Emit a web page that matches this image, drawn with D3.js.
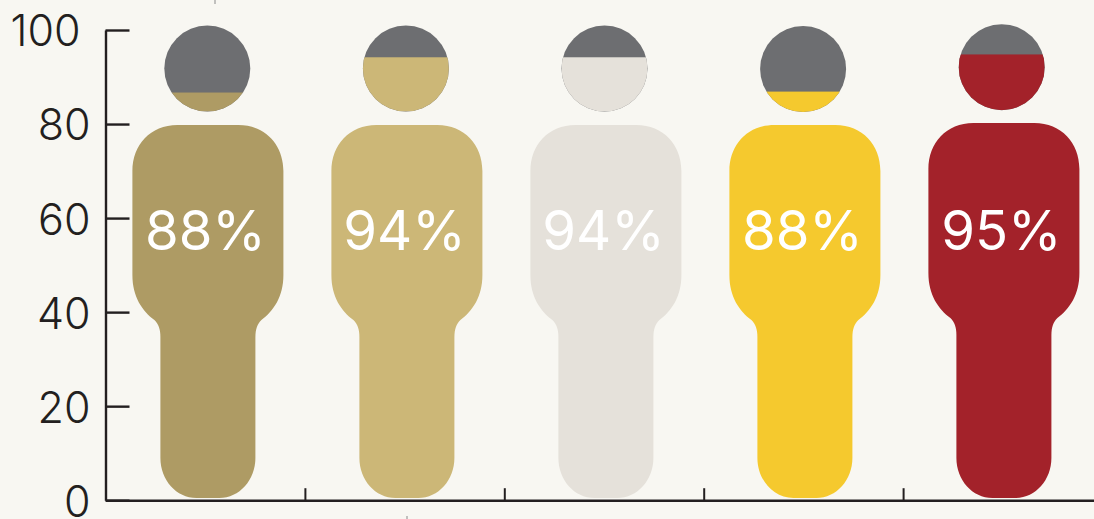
<!DOCTYPE html>
<html><head><meta charset="utf-8">
<script src="https://cdn.jsdelivr.net/npm/d3@7"></script>
<style>html,body{margin:0;padding:0;background:#f8f7f2;overflow:hidden}svg{display:block}</style>
</head><body><div id="chart"></div>
<script>
const categories = ["Group 1","Group 2","Group 3","Group 4","Group 5"];
const percentLabels = ["88%","94%","94%","88%","95%"];
const headFill = [86.7,94.2,94.2,86.9,94.8];
const headCentre = [91.8,91.8,91.8,91.7,92.1];
const bodyTop = [79.8,79.8,79.8,79.8,80.2];
const colours = ["#ae9b64","#ccb777","#e5e1da","#f5c92e","#a3222a"];
const yTicks = [0,20,40,60,80,100];

const W=1094,H=519, ink="#231f20", grey="#6d6e71";
const y=d3.scaleLinear().domain([0,100]).range([500.2,30]);
const xBody=d3.scaleBand().domain(categories).range([108.4,1103.4]);
const xHead=d3.scaleBand().domain(categories).range([108,1101]);
const xEdge=d3.scaleLinear().domain([0,5]).range([105.5,1102.5]);
const svg=d3.select("#chart").append("svg").attr("width",W).attr("height",H);
const font="Inter, sans-serif";

function bodyPath(cx,top,bot){
  const p=d3.path(), a=75.5, n=47.5;
  p.moveTo(cx-a+45,top);
  p.lineTo(cx+a-45,top);
  p.bezierCurveTo(cx+a-18,top,cx+a,top+20,cx+a,top+46);
  p.lineTo(cx+a,top+150);
  p.bezierCurveTo(cx+a,top+172,cx+a-10,top+186,cx+a-22,top+195);
  p.bezierCurveTo(cx+n+2,top+199,cx+n,top+204,cx+n,top+212);
  p.lineTo(cx+n,bot-40);
  p.bezierCurveTo(cx+n,bot-18,cx+n-16,bot,cx+n-36,bot);
  p.lineTo(cx-n+36,bot);
  p.bezierCurveTo(cx-n+16,bot,cx-n,bot-18,cx-n,bot-40);
  p.lineTo(cx-n,top+212);
  p.bezierCurveTo(cx-n,top+204,cx-n-2,top+199,cx-a+22,top+195);
  p.bezierCurveTo(cx-a+10,top+186,cx-a,top+172,cx-a,top+150);
  p.lineTo(cx-a,top+46);
  p.bezierCurveTo(cx-a,top+20,cx-a+18,top,cx-a+45,top);
  p.closePath();
  return p.toString();
}

// stray leader ticks
svg.append("g").attr("stroke","#8a8a8a").attr("stroke-width",1)
  .call(g=>{g.append("line").attr("x1",215).attr("x2",215).attr("y1",0).attr("y2",4);
            g.append("line").attr("x1",407).attr("x2",407).attr("y1",516).attr("y2",519);});

const fig=svg.selectAll("g.fig").data(categories).join("g").attr("class","fig");
const defs=svg.append("defs");
const r=43;
fig.each(function(c,i){
  const g=d3.select(this), cx=xHead(c)+xHead.bandwidth()/2, bx=xBody(c)+xBody.bandwidth()/2, cy=y(headCentre[i]);
  defs.append("clipPath").attr("id","h"+i).append("circle").attr("cx",cx).attr("cy",cy).attr("r",r);
  g.append("circle").attr("cx",cx).attr("cy",cy).attr("r",r).attr("fill",grey);
  g.append("rect").attr("clip-path",`url(#h${i})`).attr("x",cx-r).attr("width",2*r)
    .attr("y",y(headFill[i])).attr("height",cy+r-y(headFill[i])).attr("fill",colours[i]);
  g.append("path").attr("d",bodyPath(bx,y(bodyTop[i]),498)).attr("fill",colours[i]);
  g.append("text").attr("x",bx-2.5).attr("y",249.5).attr("text-anchor","middle")
    .attr("font-family",font).attr("font-weight",400).attr("font-size",54.5)
    .attr("fill","#ffffff").text(percentLabels[i]);
});

const yAxis=svg.append("g").attr("transform","translate(105.5,0)")
  .call(d3.axisLeft(y).tickValues(yTicks).tickSize(-24).tickSizeOuter(0).tickPadding(0));
yAxis.selectAll("line").attr("stroke",ink).attr("stroke-width",2.4);
yAxis.select(".domain").attr("stroke",ink).attr("stroke-width",2.4);
yAxis.selectAll("text").attr("font-family",font).attr("font-weight",300).attr("font-size",43)
  .attr("fill",ink).attr("text-anchor","end").attr("dy","0.37em")
  .attr("x",d=>d===100?-25:-15);

const xAxis=svg.append("g").attr("transform","translate(0,500.2)")
  .call(d3.axisBottom(xEdge).tickValues([1,2,3,4]).tickSize(-12).tickSizeOuter(0).tickFormat(""));
xAxis.selectAll("line").attr("stroke",ink).attr("stroke-width",2);
xAxis.select(".domain").attr("stroke",ink).attr("stroke-width",2.4);
</script></body></html>
